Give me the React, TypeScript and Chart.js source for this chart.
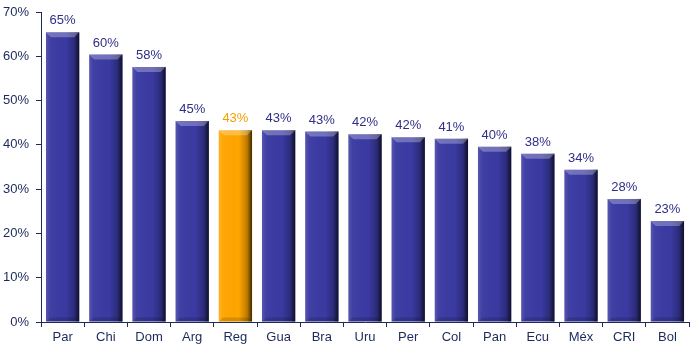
import React, { useEffect, useRef } from "react";
import { Chart, registerables } from "chart.js";

Chart.register(...registerables);

const categories = ["Par", "Chi", "Dom", "Arg", "Reg", "Gua", "Bra", "Uru", "Per", "Col", "Pan", "Ecu", "Méx", "CRI", "Bol"];
const values = [65.4, 60.4, 57.6, 45.4, 43.3, 43.3, 43.0, 42.4, 41.7, 41.4, 39.6, 38.0, 34.4, 27.8, 22.8];
const highlight = "Reg";
const yTicks = [0, 10, 20, 30, 40, 50, 60, 70];

const BLUE = "#3A3AA2";
const ORANGE = "#FFA500";
const NAVY = "#1B2A5A";
const LABEL_BLUE = "#2F2F86";
const LABEL_ORANGE = "#F4A000";
const FONT = "'Liberation Sans', Arial, sans-serif";

const bevelPlugin = {
  id: "bevel",
  afterDatasetsDraw(chart: any) {
    const ctx = chart.ctx;
    const meta = chart.getDatasetMeta(0);
    meta.data.forEach((el: any, i: number) => {
      const { x, y, base, width } = el.getProps(["x", "y", "base", "width"], true);
      const l = x - width / 2;
      const r = x + width / 2;
      const top = Math.min(y, base);
      const bot = Math.max(y, base);
      ctx.save();
      const g = ctx.createLinearGradient(l, 0, r, 0);
      g.addColorStop(0, "rgba(255,255,255,0.15)");
      g.addColorStop(0.12, "rgba(255,255,255,0.03)");
      g.addColorStop(0.6, "rgba(0,0,0,0)");
      g.addColorStop(0.85, "rgba(0,0,0,0.25)");
      g.addColorStop(1, "rgba(0,0,0,0.75)");
      ctx.fillStyle = g;
      ctx.fillRect(l, top, width, bot - top);
      // top bevel
      ctx.beginPath();
      ctx.moveTo(l, top);
      ctx.lineTo(r, top);
      ctx.lineTo(r - 5, top + 5);
      ctx.lineTo(l + 5, top + 5);
      ctx.closePath();
      ctx.fillStyle = "rgba(255,255,255,0.28)";
      ctx.fill();
      // bottom bevel
      ctx.beginPath();
      ctx.moveTo(l, bot);
      ctx.lineTo(r, bot);
      ctx.lineTo(r - 4, bot - 4);
      ctx.lineTo(l + 4, bot - 4);
      ctx.closePath();
      ctx.fillStyle = "rgba(0,0,0,0.15)";
      ctx.fill();
      // value label
      const isH = categories[i] === highlight;
      ctx.fillStyle = isH ? LABEL_ORANGE : LABEL_BLUE;
      ctx.font = "13px " + FONT;
      ctx.textAlign = "center";
      ctx.textBaseline = "bottom";
      ctx.fillText(Math.round(values[i]) + "%", x, top - 5);
      ctx.restore();
    });
  },
};

export default function App() {
  const ref = useRef<HTMLCanvasElement>(null);
  useEffect(() => {
    document.body.style.margin = "0";
    const chart = new Chart(ref.current!, {
      type: "bar",
      data: {
        labels: categories,
        datasets: [
          {
            data: values,
            backgroundColor: categories.map((c) => (c === highlight ? ORANGE : BLUE)),
            borderWidth: 0,
            barPercentage: 0.77,
            categoryPercentage: 1,
          },
        ],
      },
      options: {
        animation: false,
        responsive: false,
        maintainAspectRatio: false,
        layout: { padding: { top: 12, right: 9, left: 0, bottom: 0 } },
        plugins: { legend: { display: false }, tooltip: { enabled: false } },
        scales: {
          x: {
            offset: true,
            afterFit: (s: any) => {
              s.height = 27;
            },
            grid: { display: true, drawOnChartArea: false, offset: true, color: NAVY, tickLength: 5, lineWidth: 1 },
            border: { display: true, color: NAVY, width: 1 },
            ticks: { color: NAVY, font: { family: FONT, size: 13 }, padding: 3, maxRotation: 0, autoSkip: false },
          },
          y: {
            min: 0,
            max: 70,
            afterFit: (s: any) => {
              s.width = 41;
              s.paddingTop = 0;
              s.paddingBottom = 0;
            },
            afterBuildTicks: (axis: any) => {
              axis.ticks = yTicks.map((v) => ({ value: v }));
            },
            grid: { display: true, drawOnChartArea: false, color: NAVY, tickLength: 5, lineWidth: 1 },
            border: { display: true, color: NAVY, width: 1 },
            ticks: {
              color: NAVY,
              font: { family: FONT, size: 13 },
              padding: 7,
              callback: (v: any) => v + "%",
            },
          },
        },
      },
      plugins: [bevelPlugin],
    });
    return () => chart.destroy();
  }, []);
  return (
    <div style={{ position: "absolute", left: 0, top: 0, width: 698, height: 349 }}>
      <canvas ref={ref} width={698} height={349} />
    </div>
  );
}
